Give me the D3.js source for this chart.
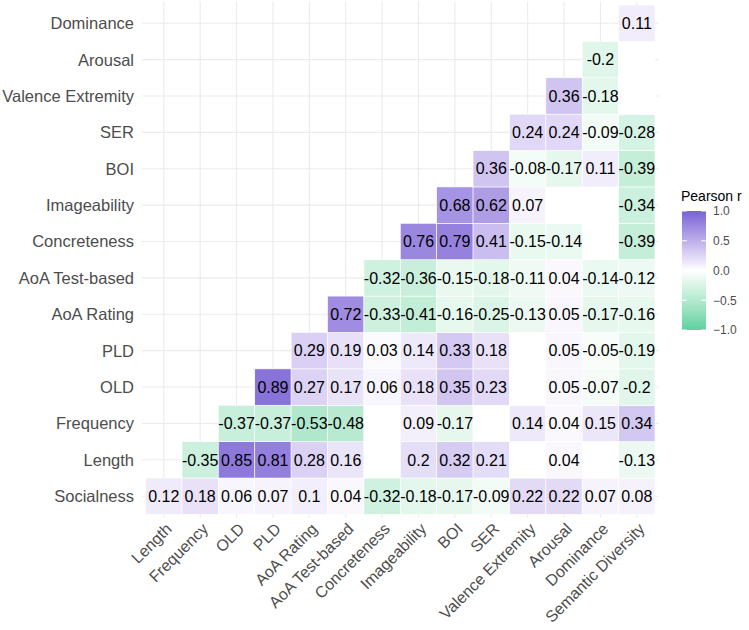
<!DOCTYPE html>
<html>
<head>
<meta charset="utf-8">
<script src="https://cdn.jsdelivr.net/npm/d3@7"></script>
<style>
  body { margin: 0; background: #fff; }
  text { font-family: "Liberation Sans", Arial, sans-serif; }
</style>
</head>
<body>
<div id="chart"></div>
<script>
// variables, columns left->right, rows bottom->top
const colVars = ["Length", "Frequency", "OLD", "PLD", "AoA Rating", "AoA Test-based",
  "Concreteness", "Imageability", "BOI", "SER", "Valence Extremity", "Arousal",
  "Dominance", "Semantic Diversity"];
const rowVars = ["Socialness", "Length", "Frequency", "OLD", "PLD", "AoA Rating",
  "AoA Test-based", "Concreteness", "Imageability", "BOI", "SER",
  "Valence Extremity", "Arousal", "Dominance"];

// row i starts at column i; null = not significant (blank tile)
const rSocialness = [0.12, 0.18, 0.06, 0.07, 0.1, 0.04, -0.32, -0.18, -0.17, -0.09, 0.22, 0.22, 0.07, 0.08];
const rLength = [-0.35, 0.85, 0.81, 0.28, 0.16, null, 0.2, 0.32, 0.21, null, 0.04, null, -0.13];
const rFrequency = [-0.37, -0.37, -0.53, -0.48, null, 0.09, -0.17, null, 0.14, 0.04, 0.15, 0.34];
const rOLD = [0.89, 0.27, 0.17, 0.06, 0.18, 0.35, 0.23, null, 0.05, -0.07, -0.2];
const rPLD = [0.29, 0.19, 0.03, 0.14, 0.33, 0.18, null, 0.05, -0.05, -0.19];
const rAoARating = [0.72, -0.33, -0.41, -0.16, -0.25, -0.13, 0.05, -0.17, -0.16];
const rAoATest = [-0.32, -0.36, -0.15, -0.18, -0.11, 0.04, -0.14, -0.12];
const rConcreteness = [0.76, 0.79, 0.41, -0.15, -0.14, null, -0.39];
const rImageability = [0.68, 0.62, 0.07, null, null, -0.34];
const rBOI = [0.36, -0.08, -0.17, 0.11, -0.39];
const rSER = [0.24, 0.24, -0.09, -0.28];
const rValence = [0.36, -0.18, null];
const rArousal = [-0.2, null];
const rDominance = [0.11];

const rowValues = [rSocialness, rLength, rFrequency, rOLD, rPLD, rAoARating, rAoATest,
  rConcreteness, rImageability, rBOI, rSER, rValence, rArousal, rDominance];
const legendTicks = [-1, -0.5, 0, 0.5, 1];

const width = 749, height = 630;
const panel = { left: 142, right: 658.6, top: 1.4, bottom: 518 };
const expand = 3.6;

const svg = d3.select("#chart").append("svg")
  .attr("width", width).attr("height", height);

const x = d3.scaleBand().domain(colVars)
  .range([panel.left + expand, panel.right - expand]);
const y = d3.scaleBand().domain(rowVars)
  .range([panel.bottom - expand, panel.top + expand]);

const color = d3.scaleLinear()
  .domain([-1, 0, 1])
  .range(["#5cd1a0", "#ffffff", "#7763d4"])
  .interpolate(d3.interpolateLab);

const cells = [];
rowValues.forEach(function(vals, i) {
  vals.forEach(function(v, k) {
    cells.push({ row: rowVars[i], col: colVars[i + k], value: v });
  });
});

// grid
const grid = svg.append("g");
grid.selectAll(".vgrid").data(colVars).enter().append("line")
  .attr("x1", d => x(d) + x.bandwidth() / 2)
  .attr("x2", d => x(d) + x.bandwidth() / 2)
  .attr("y1", panel.top).attr("y2", panel.bottom)
  .attr("stroke", "#ebebeb").attr("stroke-width", 1.1);
grid.selectAll(".hgrid").data(rowVars).enter().append("line")
  .attr("y1", d => y(d) + y.bandwidth() / 2)
  .attr("y2", d => y(d) + y.bandwidth() / 2)
  .attr("x1", panel.left).attr("x2", panel.right)
  .attr("stroke", "#ebebeb").attr("stroke-width", 1.1);

// tiles
svg.append("g").selectAll("rect").data(cells).enter().append("rect")
  .attr("x", d => x(d.col))
  .attr("y", d => y(d.row))
  .attr("width", x.bandwidth())
  .attr("height", y.bandwidth())
  .attr("fill", d => d.value === null ? "#ffffff" : color(d.value))
  .attr("stroke", "#ffffff")
  .attr("stroke-width", 0.6);

svg.append("g").selectAll("text").data(cells.filter(d => d.value !== null)).enter()
  .append("text")
  .attr("x", d => x(d.col) + x.bandwidth() / 2)
  .attr("y", d => y(d.row) + y.bandwidth() / 2)
  .attr("dy", "0.36em")
  .attr("text-anchor", "middle")
  .attr("font-size", "16px")
  .attr("fill", "#000")
  .text(d => d.value);

// axes
svg.append("g").selectAll("text").data(rowVars).enter().append("text")
  .attr("x", 134)
  .attr("y", d => y(d) + y.bandwidth() / 2)
  .attr("dy", "0.36em")
  .attr("text-anchor", "end")
  .attr("font-size", "16.5px")
  .attr("fill", "#4d4d4d")
  .text(d => d);

svg.append("g").selectAll("text").data(colVars).enter().append("text")
  .attr("transform", d => "translate(" + (x(d) + x.bandwidth() / 2 + 1) + ",522) rotate(-45)")
  .attr("dy", "0.7em")
  .attr("text-anchor", "end")
  .attr("font-size", "16px")
  .attr("fill", "#4d4d4d")
  .text(d => d);

// legend
const lg = { x: 682, w: 24, top: 211, bottom: 330 };
const ly = d3.scaleLinear().domain([-1, 1]).range([lg.bottom, lg.top]);

const grad = svg.append("defs").append("linearGradient")
  .attr("id", "lgrad").attr("x1", 0).attr("x2", 0).attr("y1", 1).attr("y2", 0);
grad.selectAll("stop").data(d3.range(0, 1.0001, 0.05)).enter().append("stop")
  .attr("offset", d => d)
  .attr("stop-color", d => color(d * 2 - 1));

svg.append("text")
  .attr("x", 681).attr("y", 201)
  .attr("font-size", "14px").attr("fill", "#000")
  .text("Pearson r");

svg.append("rect")
  .attr("x", lg.x).attr("y", lg.top)
  .attr("width", lg.w).attr("height", lg.bottom - lg.top)
  .attr("fill", "url(#lgrad)");

const lt = svg.append("g").selectAll("g").data(legendTicks).enter().append("g");
lt.append("line")
  .attr("x1", lg.x).attr("x2", lg.x + 4.8)
  .attr("y1", d => ly(d)).attr("y2", d => ly(d))
  .attr("stroke", "#fff").attr("stroke-width", 1);
lt.append("line")
  .attr("x1", lg.x + lg.w - 4.8).attr("x2", lg.x + lg.w)
  .attr("y1", d => ly(d)).attr("y2", d => ly(d))
  .attr("stroke", "#fff").attr("stroke-width", 1);
lt.append("text")
  .attr("x", 713)
  .attr("y", d => ly(d))
  .attr("dy", "0.36em")
  .attr("font-size", "12px")
  .attr("fill", "#4d4d4d")
  .text(d => d3.format(".1f")(d));
</script>
</body>
</html>
